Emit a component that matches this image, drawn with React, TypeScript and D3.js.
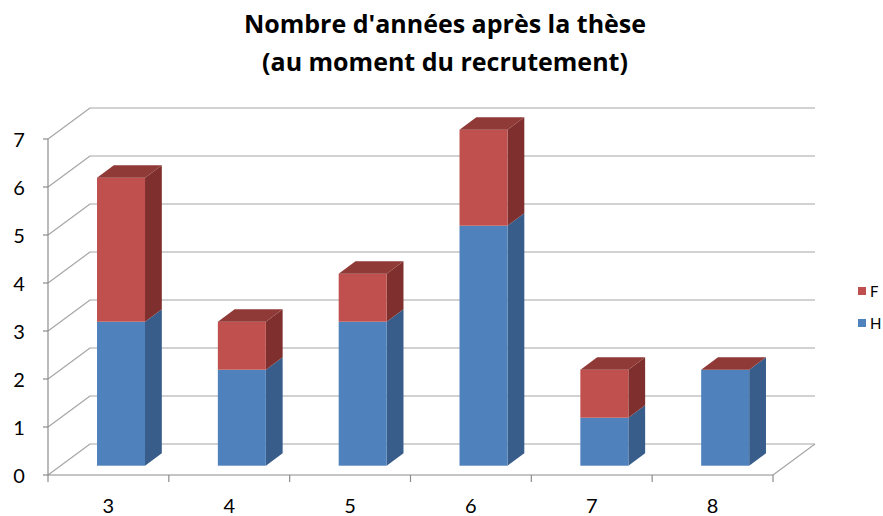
import React from "react";
import * as d3 from "d3";

const categories = ["3", "4", "5", "6", "7", "8"];
const seriesH = [3, 2, 3, 5, 1, 2];
const seriesF = [3, 1, 1, 2, 1, 0];
const yTicks = [0, 1, 2, 3, 4, 5, 6, 7];
const titleLines = ["Nombre d'années après la thèse", "(au moment du recrutement)"];
const legendItems = [
  { key: "F", color: "#C0504D" },
  { key: "H", color: "#4F81BD" },
];

const W = 883;
const H = 516;
const FONT = "Lato, 'Open Sans', sans-serif";
const TITLE_FONT = "'Open Sans', Lato, sans-serif";

const colors = {
  H: { front: "#4F81BD", side: "#385D8A", top: "#42699A" },
  F: { front: "#C0504D", side: "#7F302E", top: "#903A37" },
};

export default function App() {
  const left = 48;
  const right = 773;
  const base = 475;
  const topY = 139;
  const wallDx = 42;
  const wallDy = -31;
  const f1 = 0.3;
  const f2 = 0.7;

  const p = 1 - 48 / ((right - left) / categories.length);
  const x = d3.scaleBand<string>().domain(categories).range([left, right]).paddingInner(p).paddingOuter(p / 2);
  const y = d3.scaleLinear().domain([0, 7]).range([base, topY]);
  const bw = x.bandwidth();
  const step = x.step();

  const stacked = categories.map((c, i) => {
    const segs = [
      { key: "H", y0: 0, y1: seriesH[i] },
      { key: "F", y0: seriesH[i], y1: seriesH[i] + seriesF[i] },
    ];
    return { c, segs };
  });

  const fx = wallDx * f1, fy = wallDy * f1;
  const bx = wallDx * f2, by = wallDy * f2;
  const pts = (a: number[][]) => a.map((q) => q.join(",")).join(" ");

  const gridColor = "#A6A6A6";
  const axisColor = "#8C8C8C";

  return (
    <svg width={W} height={H} style={{ position: "absolute", left: 0, top: 0, background: "#fff" }}>
      {titleLines.map((t, i) => (
        <text key={i} x={445} y={33 + i * 38} textAnchor="middle" fontFamily={TITLE_FONT} fontWeight="bold" fontSize={25} fill="#000">
          {t}
        </text>
      ))}
      {yTicks.map((v) => (
        <g key={v}>
          <line x1={left} y1={y(v)} x2={left + wallDx} y2={y(v) + wallDy} stroke={gridColor} strokeWidth={1.2} />
          <line x1={left + wallDx} y1={y(v) + wallDy} x2={right + wallDx} y2={y(v) + wallDy} stroke={gridColor} strokeWidth={1.2} />
          <line x1={left - 5} y1={y(v)} x2={left} y2={y(v)} stroke={axisColor} strokeWidth={1.2} />
          <text x={19} y={y(v) + 8} textAnchor="middle" fontFamily={FONT} fontSize={20} fill="#000">
            {v}
          </text>
        </g>
      ))}
      <line x1={right} y1={base} x2={right + wallDx} y2={base + wallDy} stroke={gridColor} strokeWidth={1.2} />
      <line x1={left} y1={base} x2={left} y2={y(7)} stroke={axisColor} strokeWidth={1.2} />
      <line x1={left} y1={base} x2={right} y2={base} stroke={axisColor} strokeWidth={1.2} />
      {d3.range(categories.length + 1).map((i) => (
        <line key={i} x1={left + i * step} y1={base} x2={left + i * step} y2={base + 7} stroke={axisColor} strokeWidth={1.2} />
      ))}
      {categories.map((c) => (
        <text key={c} x={(x(c) as number) + bw / 2} y={513} textAnchor="middle" fontFamily={FONT} fontSize={20} fill="#000">
          {c}
        </text>
      ))}
      {stacked.map(({ c, segs }) => {
        const x0 = (x(c) as number) + fx;
        const x1 = x0 + bw;
        const last = segs[segs.length - 1];
        return (
          <g key={c}>
            {segs.map((s) => {
              const ya = y(s.y0) + fy;
              const yb = y(s.y1) + fy;
              const col = colors[s.key as "H" | "F"];
              const ddx = bx - fx, ddy = by - fy;
              return (
                <g key={s.key}>
                  {s.y1 > s.y0 && (
                    <>
                      <polygon points={pts([[x1, ya], [x1 + ddx, ya + ddy], [x1 + ddx, yb + ddy], [x1, yb]])} fill={col.side} />
                      <rect x={x0} y={yb} width={bw} height={ya - yb} fill={col.front} />
                    </>
                  )}
                  {s === last && (
                    <polygon points={pts([[x0, yb], [x1, yb], [x1 + ddx, yb + ddy], [x0 + ddx, yb + ddy]])} fill={col.top} />
                  )}
                </g>
              );
            })}
          </g>
        );
      })}
      {legendItems.map((l, i) => (
        <g key={l.key}>
          <rect x={858} y={287 + i * 32} width={8} height={8} fill={l.color} />
          <text x={870} y={297 + i * 32} fontFamily={FONT} fontSize={15} fill="#000">
            {l.key}
          </text>
        </g>
      ))}
    </svg>
  );
}
